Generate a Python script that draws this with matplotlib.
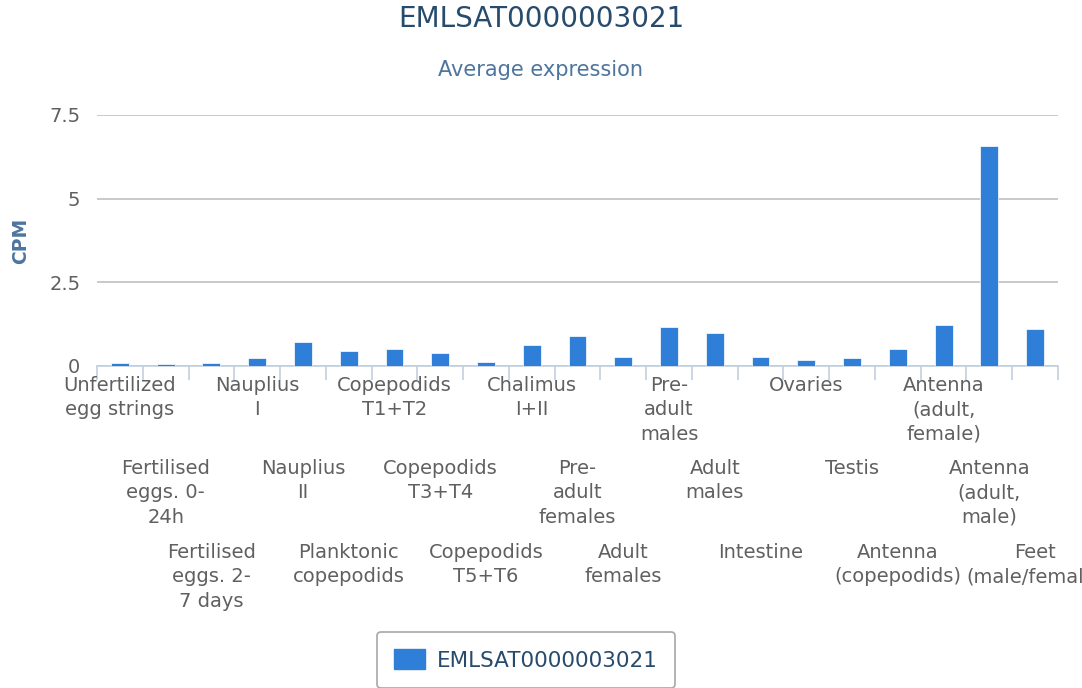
import matplotlib
matplotlib.use('Agg')
import matplotlib.pyplot as plt
from matplotlib.patches import Patch

SERIES_NAME = 'EMLSAT0000003021'
CATEGORIES = [
    'Unfertilized\negg strings',
    'Fertilised\neggs. 0-\n24h',
    'Fertilised\neggs. 2-\n7 days',
    'Nauplius\nI',
    'Nauplius\nII',
    'Planktonic\ncopepodids',
    'Copepodids\nT1+T2',
    'Copepodids\nT3+T4',
    'Copepodids\nT5+T6',
    'Chalimus\nI+II',
    'Pre-\nadult\nfemales',
    'Adult\nfemales',
    'Pre-\nadult\nmales',
    'Adult\nmales',
    'Intestine',
    'Ovaries',
    'Testis',
    'Antenna\n(copepodids)',
    'Antenna\n(adult,\nfemale)',
    'Antenna\n(adult,\nmale)',
    'Feet\n(male/female)',
]
CPM = [0.08, 0.07, 0.08, 0.23, 0.73, 0.45, 0.51, 0.40, 0.12, 0.62, 0.90,
       0.28, 1.16, 1.00, 0.28, 0.18, 0.23, 0.51, 1.22, 6.56, 1.11]
YTICKS = [0, 2.5, 5, 7.5]
YTICK_LABELS = ['0', '2.5', '5', '7.5']

BAR = '#2f7ed8'
TITLE_C = '#274b6d'
SUB_C = '#4d759e'
LABEL_C = '#606060'

plt.rcParams['font.family'] = ['DejaVu Sans']
fig = plt.figure(figsize=(10.82, 6.88), dpi=100)
W, H = 1082, 688
ax = fig.add_axes([97 / W, 1 - 366 / H, (1058 - 97) / W, (366 - 115) / H])

x = list(range(len(CATEGORIES)))
ax.bar(x, CPM, width=0.39, color=BAR, edgecolor='#ffffff', linewidth=0.5, zorder=3)

ax.set_xlim(-0.5, len(CATEGORIES) - 0.5)
ax.set_ylim(0, 7.5)
ax.set_yticks(YTICKS)
ax.set_yticklabels(YTICK_LABELS, fontsize=14, color=LABEL_C)
ax.tick_params(axis='y', length=0, pad=12)
ax.yaxis.grid(True, color='#c0c0c0', linewidth=1.2, zorder=0)

ax.set_xticks([i - 0.5 for i in range(len(CATEGORIES) + 1)])
ax.set_xticklabels([])
ax.tick_params(axis='x', length=10, width=1.2, color='#c0d0e0', direction='out')

for s in ['top', 'right', 'left']:
    ax.spines[s].set_visible(False)
ax.spines['bottom'].set_color('#c0d0e0')
ax.spines['bottom'].set_linewidth(1.2)

# staggered category labels, three rows like the original
row_offsets = [-10, -93, -177]
for i, lab in enumerate(CATEGORIES):
    ax.annotate(lab, xy=(i, 0), xycoords=('data', 'axes fraction'),
                xytext=(0, row_offsets[i % 3]), textcoords='offset pixels',
                ha='center', va='top', fontsize=14, color=LABEL_C,
                linespacing=1.36, annotation_clip=False)

ax.set_ylabel('CPM', fontsize=13.5, fontweight='bold', color=SUB_C, labelpad=14)

fig.text(0.5, 1 - 19 / H, SERIES_NAME, ha='center', va='center', fontsize=20, color=TITLE_C)
fig.text(0.5, 1 - 70 / H, 'Average expression', ha='center', va='center', fontsize=15, color=SUB_C)

handle = Patch(facecolor=BAR, edgecolor=BAR)
leg = fig.legend([handle], [SERIES_NAME], loc='center',
                 bbox_to_anchor=(526 / W, 1 - 660 / H), fontsize=15.5,
                 frameon=True, fancybox=True, edgecolor='#909090',
                 handlelength=1.45, handleheight=1.05, handletextpad=0.55,
                 borderpad=0.8, borderaxespad=0)
leg.get_frame().set_linewidth(1.2)
for t in leg.get_texts():
    t.set_color(TITLE_C)

fig.savefig('out.png', dpi=100)
